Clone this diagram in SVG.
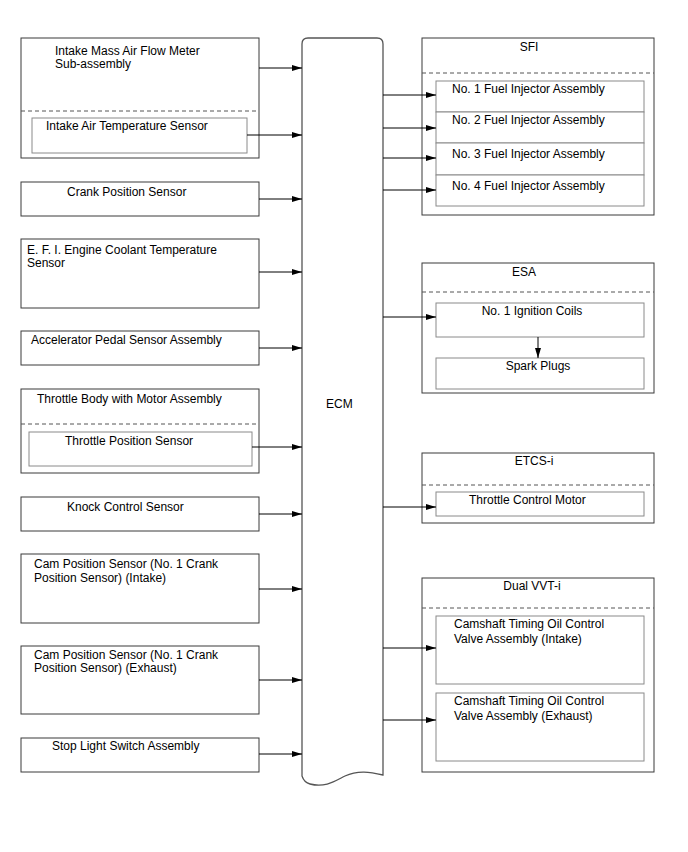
<svg xmlns="http://www.w3.org/2000/svg" width="688" height="852" viewBox="0 0 688 852">
<style>
text{font-family:"Liberation Sans",Arial,sans-serif;font-size:12px;fill:#000}
.box{fill:#fff;stroke:#3a3a3a;stroke-width:1}
.inner{fill:#fff;stroke:#8a8a8a;stroke-width:1}
.dash{stroke:#555;stroke-width:1;stroke-dasharray:4,3;fill:none}
.ecm{fill:#fff;stroke:#555;stroke-width:1.3}
.conn line{stroke:#000;stroke-width:1;marker-end:url(#ah)}
.mid{text-anchor:middle}
</style>
<defs>
<marker id="ah" viewBox="0 0 10 6" refX="10" refY="3" markerWidth="10" markerHeight="6" markerUnits="userSpaceOnUse" orient="auto">
<path d="M0,0 L10,3 L0,6 Z" fill="#000"/>
</marker>
</defs>
<rect width="688" height="852" fill="#fff"/>

<g id="ecm">
<path class="ecm" d="M302,776 L302,44 Q302,38 308,38 L377,38 Q383,38 383,44 L383,775 C370,772 358,770 345,776 C335,781 325,788 310,784 C306,783 303,779 302,776 Z"/>
<text x="326" y="408">ECM</text>
</g>

<g id="maf">
<rect class="box" x="21" y="38" width="238" height="120"/>
<line class="dash" x1="21" y1="111" x2="259" y2="111"/>
<text x="55" y="55">Intake Mass Air Flow Meter</text>
<text x="55" y="68">Sub-assembly</text>
</g>
<g id="iat">
<rect class="inner" x="32" y="118" width="215" height="35"/>
<text x="46" y="130">Intake Air Temperature Sensor</text>
</g>
<g id="crank">
<rect class="box" x="21" y="182" width="238" height="34"/>
<text x="67" y="196">Crank Position Sensor</text>
</g>
<g id="efi">
<rect class="box" x="21" y="239" width="238" height="69"/>
<text x="27" y="254">E. F. I. Engine Coolant Temperature</text>
<text x="27" y="267">Sensor</text>
</g>
<g id="accel">
<rect class="box" x="21" y="331" width="238" height="34"/>
<text x="31" y="344">Accelerator Pedal Sensor Assembly</text>
</g>
<g id="throttle-body">
<rect class="box" x="21" y="389" width="238" height="84"/>
<line class="dash" x1="21" y1="424" x2="259" y2="424"/>
<text x="37" y="403">Throttle Body with Motor Assembly</text>
</g>
<g id="tps">
<rect class="inner" x="29" y="432" width="223" height="34"/>
<text x="65" y="445">Throttle Position Sensor</text>
</g>
<g id="knock">
<rect class="box" x="21" y="497" width="238" height="34"/>
<text x="67" y="511">Knock Control Sensor</text>
</g>
<g id="cam-intake">
<rect class="box" x="21" y="554" width="238" height="69"/>
<text x="34" y="568">Cam Position Sensor (No. 1 Crank</text>
<text x="34" y="582">Position Sensor) (Intake)</text>
</g>
<g id="cam-exhaust">
<rect class="box" x="21" y="646" width="238" height="68"/>
<text x="34" y="659">Cam Position Sensor (No. 1 Crank</text>
<text x="34" y="672">Position Sensor) (Exhaust)</text>
</g>
<g id="stop">
<rect class="box" x="21" y="738" width="238" height="34"/>
<text x="52" y="750">Stop Light Switch Assembly</text>
</g>

<g id="sfi">
<rect class="box" x="422" y="38" width="232" height="177"/>
<line class="dash" x1="422" y1="73" x2="654" y2="73"/>
<text x="529" y="51" class="mid">SFI</text>
</g>
<g id="inj1"><rect class="inner" x="436" y="81" width="208" height="31"/><text x="452" y="93">No. 1 Fuel Injector Assembly</text></g>
<g id="inj2"><rect class="inner" x="436" y="112" width="208" height="31"/><text x="452" y="124">No. 2 Fuel Injector Assembly</text></g>
<g id="inj3"><rect class="inner" x="436" y="143" width="208" height="32"/><text x="452" y="158">No. 3 Fuel Injector Assembly</text></g>
<g id="inj4"><rect class="inner" x="436" y="175" width="208" height="31"/><text x="452" y="190">No. 4 Fuel Injector Assembly</text></g>

<g id="esa">
<rect class="box" x="422" y="263" width="232" height="130"/>
<line class="dash" x1="422" y1="292" x2="654" y2="292"/>
<text x="524" y="276" class="mid">ESA</text>
</g>
<g id="coils"><rect class="inner" x="436" y="303" width="208" height="34"/><text x="532" y="315" class="mid">No. 1 Ignition Coils</text></g>
<g id="plugs"><rect class="inner" x="436" y="358" width="208" height="31"/><text x="538" y="370" class="mid">Spark Plugs</text></g>

<g id="etcs">
<rect class="box" x="422" y="453" width="232" height="70"/>
<line class="dash" x1="422" y1="485" x2="654" y2="485"/>
<text x="534" y="465" class="mid">ETCS-i</text>
</g>
<g id="tcm"><rect class="inner" x="436" y="492" width="208" height="24"/><text x="469" y="504">Throttle Control Motor</text></g>

<g id="vvt">
<rect class="box" x="422" y="578" width="232" height="194"/>
<line class="dash" x1="422" y1="608" x2="654" y2="608"/>
<text x="532" y="590" class="mid">Dual VVT-i</text>
</g>
<g id="ocv-intake"><rect class="inner" x="436" y="616" width="208" height="68"/><text x="454" y="628">Camshaft Timing Oil Control</text><text x="454" y="643">Valve Assembly (Intake)</text></g>
<g id="ocv-exhaust"><rect class="inner" x="436" y="693" width="208" height="68"/><text x="454" y="705">Camshaft Timing Oil Control</text><text x="454" y="720">Valve Assembly (Exhaust)</text></g>

<g id="connectors" class="conn">
<line x1="259" y1="68" x2="302" y2="68"/>
<line x1="247" y1="135" x2="302" y2="135"/>
<line x1="259" y1="199" x2="302" y2="199"/>
<line x1="259" y1="272" x2="302" y2="272"/>
<line x1="259" y1="348" x2="302" y2="348"/>
<line x1="252" y1="447" x2="302" y2="447"/>
<line x1="259" y1="514" x2="302" y2="514"/>
<line x1="259" y1="589" x2="302" y2="589"/>
<line x1="259" y1="680" x2="302" y2="680"/>
<line x1="259" y1="754" x2="302" y2="754"/>
<line x1="383" y1="95" x2="436" y2="95"/>
<line x1="383" y1="128" x2="436" y2="128"/>
<line x1="383" y1="158" x2="436" y2="158"/>
<line x1="383" y1="190" x2="436" y2="190"/>
<line x1="383" y1="317" x2="436" y2="317"/>
<line x1="538" y1="337" x2="538" y2="358"/>
<line x1="383" y1="507" x2="436" y2="507"/>
<line x1="383" y1="648" x2="436" y2="648"/>
<line x1="383" y1="720" x2="436" y2="720"/>
</g>
</svg>
